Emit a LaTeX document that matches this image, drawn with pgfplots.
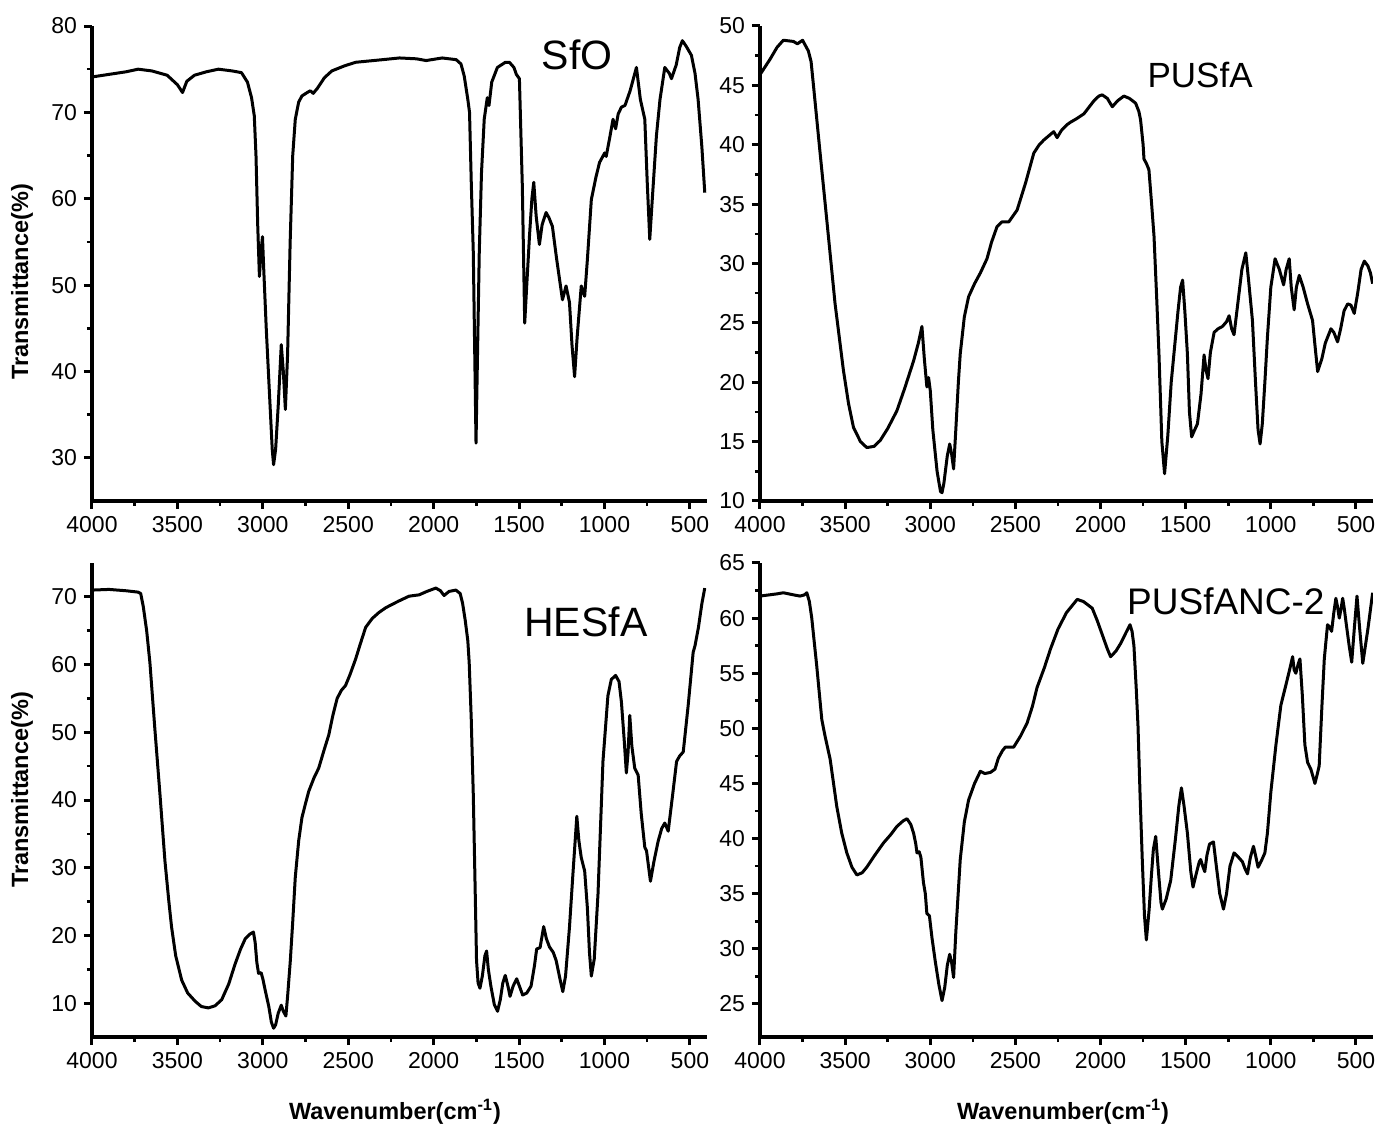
\documentclass[border=0pt]{standalone}
\usepackage{fontspec}
\setmainfont{Liberation Sans}
\usepackage{pgfplots}
\pgfplotsset{compat=1.18}
\pgfplotsset{
  ftir/.style={
    scale only axis, anchor=south west,
    x dir=reverse, xmin=400, xmax=4000,
    xtick={500,1000,...,4000}, minor x tick num=1, minor y tick num=1,
    axis lines*=left,
    axis line style={-, line width=1.6pt},
    every outer x axis line/.append style={line width=1.6pt},
    every outer y axis line/.append style={line width=1.6pt},
    every inner x axis line/.append style={line width=1.6pt},
    every inner y axis line/.append style={line width=1.6pt},
    tick align=outside, major tick length=4pt, minor tick length=2.5pt,
    every tick/.append style={black, line width=1.5pt},
    every major tick/.append style={line width=1.5pt},
    every minor tick/.append style={line width=1.3pt},
    tick label style={font=\fontsize{11.5}{13}\selectfont},
    /pgf/number format/assume math mode=true, /pgf/number format/1000 sep={},
  },
  crv/.style={black, mark=none, line width=1.5pt, line join=round},
}
\tikzset{ttl/.style={font=\fontsize{20.5}{24}\selectfont}}
\begin{document}
\begin{tikzpicture}
\path[use as bounding box] (0,0) rectangle (688.5pt,565.5pt);
% ---------- SfO ----------
\begin{axis}[ftir, at={(46pt,315pt)}, width=307.5pt, height=237.5pt,
  ymin=25, ymax=80, ytick={30,40,...,80}]
\addplot[crv] coordinates {
(4000,74.1)(3900,74.4)(3800,74.7)(3730,75.0)(3650,74.8)(3560,74.3)(3500,73.2)(3470,72.3)(3445,73.6)(3400,74.3)(3330,74.7)(3260,75.0)(3180,74.8)(3125,74.6)(3090,73.5)(3066,71.7)(3050,69.6)(3040,65)(3030,57)(3020,51.0)(3010,54)(3002,55.6)(2995,52)(2980,45)(2960,37)(2945,31)(2937,29.2)(2925,31)(2910,36)(2892,43.1)(2880,40)(2868,35.6)(2855,42)(2840,55)(2825,65)(2810,69.2)(2790,71.2)(2771,71.9)(2740,72.3)(2722,72.5)(2705,72.2)(2680,72.8)(2640,74.0)(2596,74.8)(2520,75.4)(2456,75.8)(2300,76.1)(2200,76.3)(2100,76.2)(2044,76.0)(1950,76.3)(1868,76.1)(1840,75.6)(1821,74.2)(1800,71.5)(1790,70.0)(1780,62)(1768,53.8)(1758,40)(1752,31.7)(1745,40)(1733,53.8)(1720,63)(1704,69.2)(1686,71.7)(1676,70.8)(1660,73.5)(1627,75.2)(1580,75.8)(1557,75.8)(1530,75.2)(1516,74.4)(1498,73.9)(1490,68)(1481,61.5)(1467,45.6)(1455,50)(1439,55.7)(1425,60)(1414,61.9)(1400,58)(1381,54.7)(1365,57)(1342,58.4)(1325,57.8)(1305,56.8)(1280,53)(1246,48.3)(1225,49.9)(1205,48.0)(1190,43)(1175,39.4)(1160,44)(1136,49.9)(1116,48.7)(1100,53)(1077,59.9)(1050,62.5)(1029,64.2)(999,65.3)(990,64.9)(970,67)(950,69.2)(935,68.1)(920,69.8)(901,70.6)(880,70.8)(850,72.5)(813,75.2)(790,71.5)(764,69.2)(750,62)(735,55.3)(720,60)(696,67.3)(675,71.5)(647,75.2)(620,74.5)(608,73.9)(580,75.5)(560,77.5)(544,78.3)(520,77.6)(491,76.6)(470,74.5)(452,71.5)(430,66)(413,60.7)
};
\node[ttl] at (rel axis cs:0.789,0.939) {SfO};
\end{axis}
% ---------- PUSfA ----------
\begin{axis}[ftir, at={(380pt,315pt)}, width=306.5pt, height=237.5pt,
  ymin=10, ymax=50, ytick={10,15,...,50}]
\addplot[crv] coordinates {
(4000,45.9)(3941,47.2)(3900,48.2)(3863,48.8)(3804,48.7)(3780,48.5)(3750,48.8)(3716,47.9)(3700,47.0)(3686,45.0)(3647,39.3)(3608,33.7)(3559,26.6)(3510,21.0)(3480,18.2)(3451,16.2)(3410,15.0)(3373,14.5)(3330,14.6)(3294,15.1)(3250,16.1)(3196,17.6)(3150,19.5)(3098,21.8)(3070,23.3)(3049,24.7)(3035,22)(3020,19.6)(3010,20.4)(3000,19.3)(2985,16)(2960,12.5)(2940,10.8)(2931,10.7)(2920,11.5)(2900,13.8)(2886,14.8)(2875,14)(2863,12.7)(2850,16)(2835,20)(2824,22.4)(2800,25.5)(2775,27.2)(2740,28.3)(2706,29.2)(2667,30.4)(2640,31.8)(2608,33.1)(2580,33.5)(2539,33.5)(2490,34.5)(2440,36.8)(2392,39.3)(2360,40.0)(2333,40.4)(2300,40.8)(2275,41.1)(2255,40.6)(2230,41.2)(2196,41.7)(2176,41.9)(2140,42.2)(2098,42.6)(2039,43.7)(2010,44.1)(1990,44.2)(1960,43.9)(1931,43.2)(1900,43.7)(1863,44.1)(1830,43.9)(1794,43.5)(1775,42.8)(1765,42.1)(1750,40)(1745,38.8)(1730,38.4)(1716,37.9)(1700,35)(1686,32.3)(1670,27)(1657,22.4)(1640,15)(1624,12.3)(1605,15.5)(1585,20)(1569,22.4)(1545,26)(1530,28)(1518,28.6)(1505,26)(1490,22.4)(1478,17.5)(1465,15.4)(1450,15.9)(1431,16.5)(1410,19)(1392,22.3)(1380,21)(1369,20.3)(1355,22.5)(1333,24.2)(1310,24.5)(1284,24.7)(1260,25.1)(1245,25.6)(1230,24.5)(1216,24.0)(1195,26.5)(1170,29.5)(1147,30.9)(1130,28.5)(1108,25.2)(1090,20)(1075,16)(1063,14.8)(1050,16.5)(1035,20)(1020,23.8)(1000,28)(975,30.4)(950,29.5)(925,28.2)(910,29.5)(892,30.4)(880,28)(863,26.1)(850,28)(833,29.0)(810,28)(784,26.6)(755,25.2)(740,23)(725,20.9)(700,22)(680,23.3)(647,24.5)(630,24.2)(608,23.4)(590,24.5)(570,26)(549,26.6)(530,26.5)(510,25.8)(490,27.5)(470,29.5)(451,30.2)(430,29.8)(415,29.2)(402,28.3)
};
\node[font=\fontsize{17.5}{21}\selectfont] at (rel axis cs:0.718,0.897) {PUSfA};
\end{axis}
% ---------- HESfA ----------
\begin{axis}[ftir, at={(46pt,47pt)}, width=307.5pt, height=237pt,
  ymin=5, ymax=75, ytick={10,20,...,70}]
\addplot[crv] coordinates {
(4000,71.0)(3900,71.1)(3800,70.9)(3730,70.7)(3715,70.5)(3700,68.6)(3680,65)(3661,60.3)(3632,50.5)(3602,40.8)(3573,31.0)(3550,25)(3534,21.2)(3510,17)(3475,13.4)(3440,11.5)(3397,10.3)(3360,9.5)(3319,9.3)(3280,9.6)(3241,10.5)(3200,12.8)(3162,15.8)(3130,18)(3103,19.5)(3075,20.2)(3055,20.5)(3045,19)(3035,16)(3025,14.4)(3010,14.5)(3000,13.6)(2986,11.9)(2965,9.5)(2950,7.2)(2937,6.3)(2925,6.8)(2910,8.5)(2892,9.7)(2880,8.8)(2865,8.1)(2855,11)(2839,16.3)(2825,22)(2810,28.6)(2790,34)(2771,37.4)(2750,39.5)(2731,41.3)(2700,43.3)(2673,44.7)(2640,47.5)(2614,49.6)(2590,52.5)(2565,55.0)(2540,56.2)(2516,56.9)(2490,58.5)(2457,60.8)(2430,63)(2398,65.5)(2360,66.8)(2320,67.7)(2280,68.4)(2242,68.9)(2203,69.4)(2144,70.1)(2085,70.3)(2040,70.8)(1987,71.3)(1960,70.9)(1939,70.2)(1910,70.8)(1870,71.0)(1845,70.5)(1831,69.1)(1815,66.5)(1800,63.5)(1792,60.3)(1780,52)(1768,40.8)(1758,28)(1749,16.3)(1740,13.0)(1729,12.2)(1715,14)(1700,17)(1690,17.7)(1680,15)(1665,12.5)(1645,9.8)(1626,8.8)(1610,10.5)(1595,13.0)(1581,14.1)(1565,12.5)(1553,11.0)(1535,12.5)(1514,13.6)(1495,12.3)(1479,11.2)(1455,11.5)(1430,12.5)(1410,15.5)(1397,18.0)(1377,18.2)(1356,21.3)(1340,19.5)(1322,18.3)(1300,17.5)(1283,16.3)(1260,13.5)(1244,11.7)(1228,14)(1205,21.2)(1185,29)(1162,37.6)(1150,34)(1136,31.5)(1116,29.5)(1100,24)(1088,17.5)(1077,14.0)(1060,16.5)(1038,26.1)(1009,45.7)(980,55.4)(960,57.8)(935,58.4)(915,57.5)(901,54.5)(885,49)(872,44.0)(862,47)(852,52.5)(840,48)(823,44.7)(803,43.7)(785,38)(764,33.0)(754,32.5)(731,28.0)(710,31)(686,33.9)(665,35.8)(647,36.6)(627,35.4)(600,41)(578,45.7)(560,46.5)(539,47.1)(510,54)(481,61.8)(470,62.8)(450,65.5)(430,69)(413,71.3)
};
\node[ttl] at (rel axis cs:0.803,0.876) {HESfA};
\end{axis}
% ---------- PUSfANC-2 ----------
\begin{axis}[ftir, at={(380pt,47pt)}, width=306.5pt, height=237pt,
  ymin=22, ymax=65, ytick={25,30,...,65}]
\addplot[crv] coordinates {
(4000,62.0)(3900,62.2)(3863,62.3)(3800,62.1)(3765,62.0)(3740,62.1)(3725,62.3)(3710,61.5)(3696,60.0)(3667,55.7)(3637,50.8)(3618,49.3)(3588,47.2)(3549,42.9)(3520,40.5)(3490,38.7)(3460,37.4)(3431,36.7)(3400,36.9)(3373,37.4)(3330,38.4)(3275,39.6)(3230,40.4)(3196,41.1)(3160,41.6)(3137,41.8)(3115,41.3)(3098,40.5)(3085,39.5)(3078,38.7)(3065,38.8)(3055,38.3)(3040,36)(3029,35.0)(3020,33.2)(3005,33.0)(2990,31)(2971,28.9)(2950,26.8)(2931,25.3)(2915,26.5)(2900,28.5)(2886,29.5)(2875,28.8)(2863,27.4)(2850,31.5)(2824,38.1)(2800,41.5)(2775,43.5)(2740,45.0)(2706,46.1)(2680,45.9)(2647,46.0)(2620,46.3)(2600,47.3)(2575,48.0)(2559,48.3)(2510,48.3)(2470,49.3)(2431,50.5)(2400,52.0)(2373,53.7)(2330,55.5)(2294,57.2)(2250,59.0)(2200,60.5)(2137,61.7)(2100,61.5)(2049,60.9)(2020,59.8)(1990,58.5)(1960,57.2)(1941,56.5)(1910,57.0)(1882,57.7)(1850,58.7)(1827,59.4)(1815,58.8)(1804,57.5)(1790,53.5)(1780,50.2)(1768,44)(1755,38.1)(1742,33)(1731,30.8)(1715,33.5)(1702,36.5)(1690,39)(1676,40.2)(1660,37)(1645,34.2)(1637,33.6)(1615,34.5)(1588,36.2)(1560,40)(1540,43)(1525,44.6)(1510,43)(1490,40.5)(1470,37)(1457,35.6)(1435,37.0)(1420,37.9)(1412,38.1)(1400,37.5)(1388,37.0)(1375,38.5)(1360,39.5)(1337,39.7)(1320,37.5)(1300,35)(1278,33.6)(1260,35)(1240,37.5)(1216,38.7)(1190,38.3)(1167,37.9)(1150,37.2)(1137,36.8)(1120,38.3)(1102,39.3)(1090,38.5)(1075,37.4)(1055,38)(1035,38.7)(1020,40.5)(1000,44.2)(970,48.5)(941,52.1)(912,53.9)(890,55.3)(872,56.5)(863,55.3)(853,55.0)(840,55.8)(829,56.3)(815,53)(800,48.5)(784,46.9)(765,46.3)(750,45.5)(741,45.0)(728,45.8)(716,46.6)(700,52)(686,56.3)(667,59.4)(655,59.2)(643,58.8)(630,60.5)(618,61.8)(608,61.0)(598,60.0)(588,60.8)(578,61.8)(568,60.8)(559,59.7)(540,57.5)(525,56.0)(510,59)(494,62.0)(478,59)(460,55.9)(430,59)(402,62.3)
};
\node[font=\fontsize{18.5}{22}\selectfont] at (rel axis cs:0.760,0.92) {PUSfANC-2};
\end{axis}
% ---------- axis labels ----------
\node[rotate=90, font=\bfseries\fontsize{11.75}{14}\selectfont] at (11pt,424.5pt) {Transmittance(\%)};
\node[rotate=90, font=\bfseries\fontsize{11.75}{14}\selectfont] at (11pt,170.5pt) {Transmittance(\%)};
\node[font=\bfseries\fontsize{11.75}{14}\selectfont] at (197.5pt,9.5pt) {Wavenumber(cm\textsuperscript{-1})};
\node[font=\bfseries\fontsize{11.75}{14}\selectfont] at (531.5pt,9.5pt) {Wavenumber(cm\textsuperscript{-1})};
\end{tikzpicture}
\end{document}
